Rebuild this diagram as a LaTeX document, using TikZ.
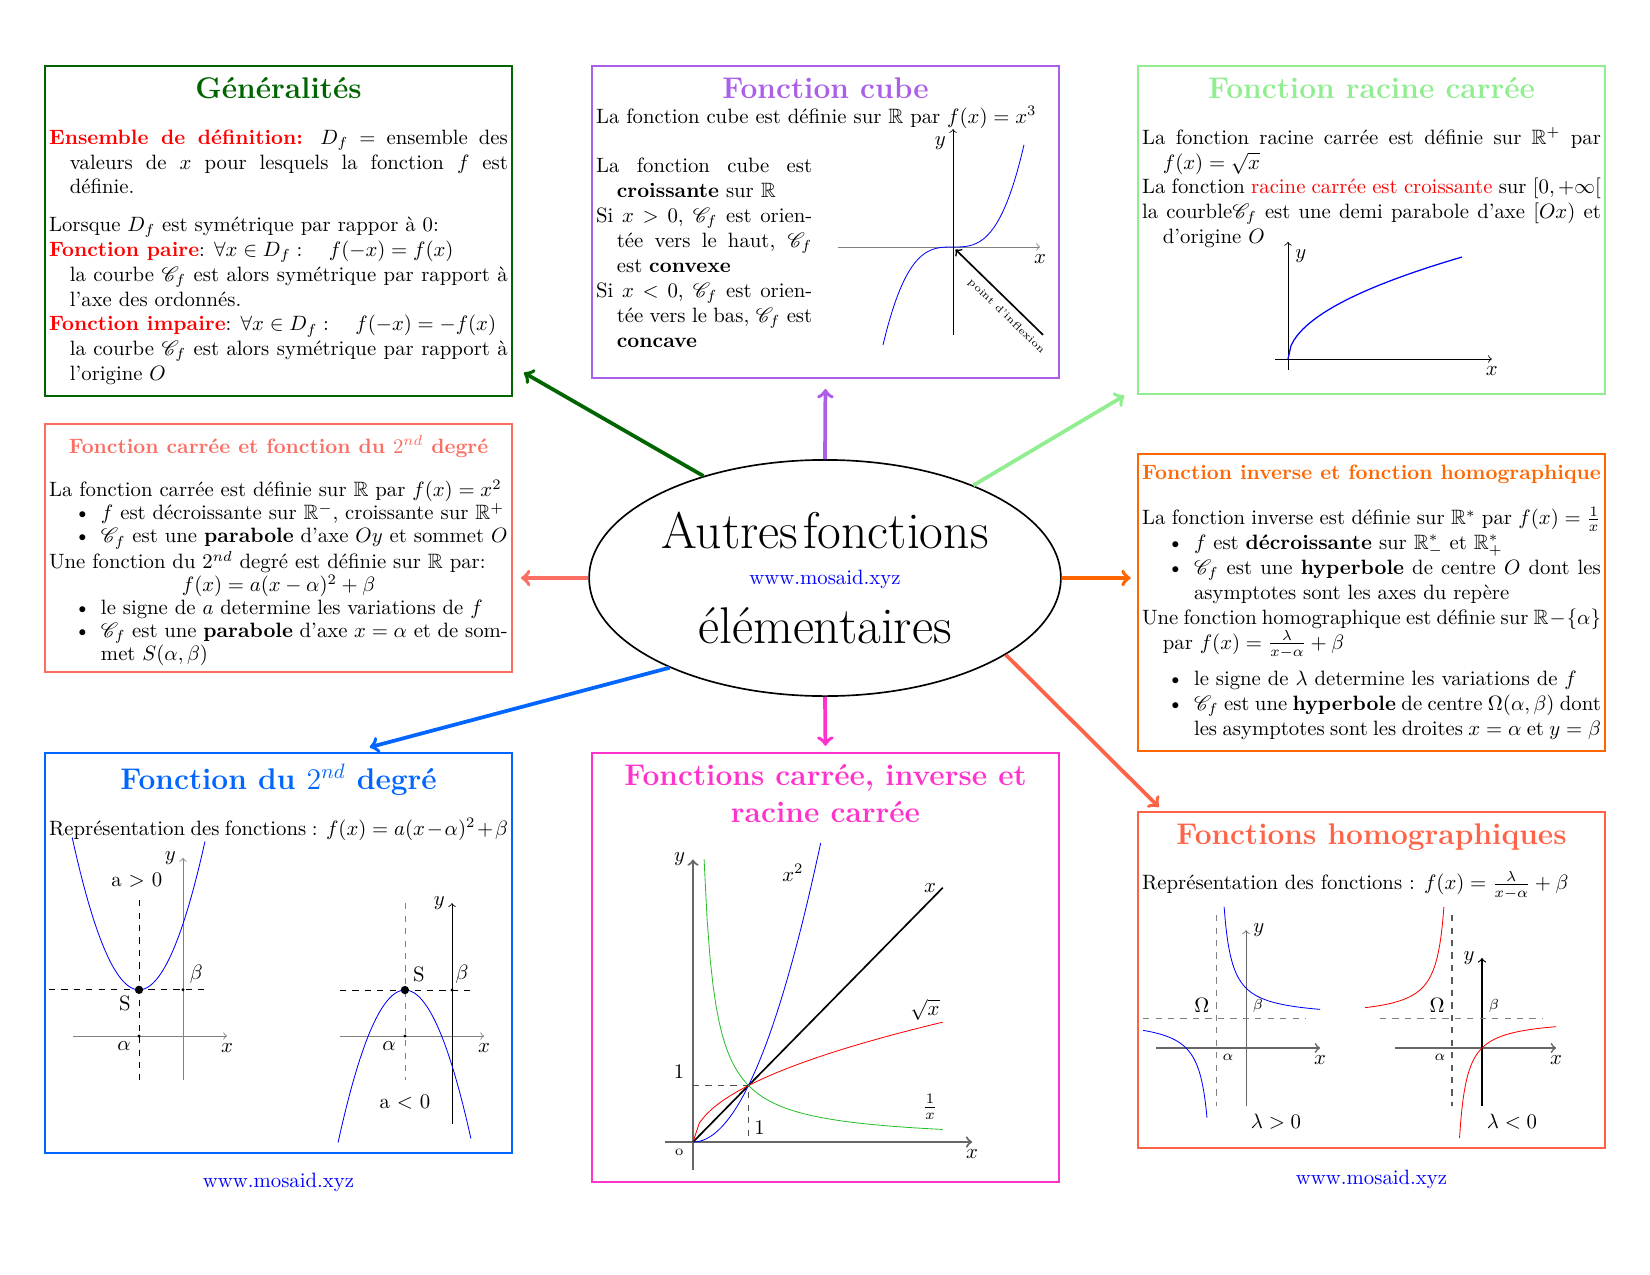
\documentclass[tikz,border=0pt]{standalone}
\usepackage{amsmath,amssymb}
\usepackage{mathrsfs}
\usepackage{enumitem}
\usetikzlibrary{shapes.geometric}
\definecolor{vertfonce}{RGB}{0,100,0}
\definecolor{violetc}{RGB}{170,95,230}
\definecolor{vertclair}{RGB}{144,238,144}
\definecolor{saumon}{RGB}{250,110,100}
\definecolor{orangec}{RGB}{255,102,0}
\definecolor{bleuc}{RGB}{0,102,255}
\definecolor{magentac}{RGB}{255,51,204}
\definecolor{tomate}{RGB}{255,99,71}
\definecolor{vertcourbe}{RGB}{40,190,40}
\newcommand{\ligne}{\par\hangindent=1em\hangafter=1\noindent}
\newcommand{\contenu}[2]{\begin{minipage}[c][#1][t]{7.77cm}\setlength{\parindent}{0pt}\vspace{3.5pt}#2\end{minipage}}
\newcommand{\entete}[2]{{\centering\Large\bfseries\color{#1}#2\par}}
\begin{document}
\begin{tikzpicture}[x=0.016933cm, y=-0.016933cm,
  boite/.style={draw=#1, line width=1pt, inner sep=2pt},
  fleche/.style={->, line width=1.8pt, draw=#1},
  url/.style={text=blue}]
\useasboundingbox (0,0) rectangle (1650,1275);
% centre
\node[draw, ellipse, thick, minimum width=7.99cm, minimum height=4cm, inner sep=0pt] (centre) at (825,578) {};
\node[align=center, font=\Huge] (titre) at (centre.center) {Autres\hspace{2.5pt}fonctions\\[-12.7pt]{\normalsize\color{blue}www.mosaid.xyz}\\[-1.1pt]élémentaires};
% Generalites
\node[boite=vertfonce] (gen) at (278.5,231) {\contenu{5.447cm}{%
\entete{vertfonce}{Généralités}
\vspace{10pt}
\ligne{\color{red}\bfseries Ensemble de définition:} $D_f$ = ensemble des valeurs de $x$ pour lesquels la fonction $f$ est définie.
\par\vspace{6pt}
\ligne Lorsque $D_f$ est symétrique par rappor à 0:
\ligne{\color{red}\bfseries Fonction paire}: $\forall x\in D_f :\quad f(-x)=f(x)$\\
la courbe $\mathscr{C}_f$ est alors symétrique par rapport à l'axe des ordonnés.
\ligne{\color{red}\bfseries Fonction impaire}: $\forall x\in D_f :\quad f(-x)=-f(x)$\\
la courbe $\mathscr{C}_f$ est alors symétrique par rapport à l'origine $O$}};
% cube
\node[boite=violetc] (cube) at (825.5,222) {\contenu{5.143cm}{%
\entete{violetc}{Fonction cube}
\noindent La fonction cube est définie sur $\mathbb{R}$ par $f(x)=x^3$\par
\vspace{12pt}
\begin{minipage}[t]{3.66cm}
\ligne La fonction cube est \textbf{croissante} sur $\mathbb{R}$
\ligne Si $x>0$, $\mathscr{C}_f$ est orien\-tée vers le haut, $\mathscr{C}_f$ est \textbf{convexe}
\ligne Si $x<0$, $\mathscr{C}_f$ est orien\-tée vers le bas, $\mathscr{C}_f$ est \textbf{concave}
\end{minipage}}};
% racine
\node[boite=vertclair] (racine) at (1371.5,230) {\contenu{5.413cm}{%
\entete{vertclair}{Fonction racine carrée}
\vspace{10pt}
\ligne La fonction racine carrée est définie sur $\mathbb{R}^+$ par $f(x)=\sqrt{x}$
\ligne La fonction {\color{red}racine carrée est croissante} sur $[0,+\infty[$
\ligne la courble$\mathscr{C}_f$ est une demi parabole d'axe $[Ox)$ et d'origine $O$}};
% carre
\node[boite=saumon] (carre) at (278.5,548) {\contenu{4.059cm}{%
{\centering\bfseries\color{saumon}Fonction carrée et fonction du $2^{nd}$ degré\par}
\vspace{10pt}
\fontsize{10}{11.1}\selectfont
\ligne La fonction carrée est définie sur $\mathbb{R}$ par $f(x)=x^2$
\begin{itemize}[nosep]
\item $f$ est décroissante sur $\mathbb{R}^-$, croissante sur $\mathbb{R}^+$
\item $\mathscr{C}_f$ est une \textbf{parabole} d'axe $Oy$ et sommet $O$
\end{itemize}
\ligne Une fonction du $2^{nd}$ degré est définie sur $\mathbb{R}$ par:\par
{\centering $f(x)=a(x-\alpha)^2+\beta$\par}
\begin{itemize}[nosep]
\item le signe de $a$ determine les variations de $f$
\item $\mathscr{C}_f$ est une \textbf{parabole} d'axe $x=\alpha$ et de som\-met $S(\alpha,\beta)$
\end{itemize}}};
% inverse
\node[boite=orangec] (inverse) at (1371.5,602.5) {\contenu{4.889cm}{%
{\centering\bfseries\color{orangec}Fonction inverse et fonction homographique\par}
\vspace{9.5pt}
\ligne La fonction inverse est définie sur $\mathbb{R}^*$ par $f(x)=\frac{1}{x}$
\begin{itemize}[nosep]
\item $f$ est \textbf{décroissante} sur $\mathbb{R}^*_-$ et $\mathbb{R}^*_+$
\item $\mathscr{C}_f$ est une \textbf{hyperbole} de centre $O$ dont les asymptotes sont les axes du repère
\end{itemize}
\ligne Une fonction homographique est définie sur $\mathbb{R}-\{\alpha\}$ par $f(x)=\frac{\lambda}{x-\alpha}+\beta$
\begin{itemize}[nosep,topsep=5.5pt]
\item le signe de $\lambda$ determine les variations de $f$
\item $\mathscr{C}_f$ est une \textbf{hyperbole} de centre $\Omega(\alpha,\beta)$ dont les asymptotes sont les droites $x=\alpha$ et $y=\beta$
\end{itemize}}};
% 2nd degre
\node[boite=bleuc] (deg2) at (278.5,953) {\contenu{6.633cm}{%
\entete{bleuc}{Fonction du $2^{nd}$ degré}
\vspace{10pt}
\ligne Représentation des fonctions : $f(x)=a(x-\alpha)^2+\beta$}};
% carree inverse racine
\node[boite=magentac] (trois) at (825.5,967.5) {\contenu{7.124cm}{%
\entete{magentac}{Fonctions carrée, inverse et racine carrée}}};
% homographiques
\node[boite=tomate] (homo) at (1371.5,980) {\contenu{5.549cm}{%
\entete{tomate}{Fonctions homographiques}
\vspace{10pt}
\ligne Représentation des fonctions : $f(x)=\frac{\lambda}{x-\alpha}+\beta$}};
\node[url] (urlg) at (278.5,1182) {www.mosaid.xyz};
\node[url] (urld) at (1371.5,1179) {www.mosaid.xyz};
% fleches
\draw[fleche=vertfonce, shorten >=6pt] (centre.140) -- (gen.-30);
\draw[fleche=violetc, shorten >=4.8pt] (centre.north) -- (cube.south);
\draw[fleche=vertclair, shorten >=7pt] (centre.32) -- (racine.214);
\draw[fleche=saumon, shorten >=3.8pt] (centre.west) -- (centre.west -| carre.east);
\draw[fleche=orangec, shorten >=3pt] (centre.east) -- (centre.east -| inverse.west);
\draw[fleche=bleuc, shorten >=9pt] (centre.210) -- (deg2.70);
\draw[fleche=magentac, shorten >=3pt] (centre.south) -- (trois.north);
\draw[fleche=tomate, shorten >=2.7pt] (centre.-23) -- (homo.141);
% courbe cube
\begin{scope}[shift={(953,247)}, x=0.847cm, y=0.605cm]
\draw[->,gray] (-2.3,0) -- (1.74,0) node[below,text=black] (cx) {$x$};
\draw[->] (0,-2.46) -- (0,3.3) node[below left] (cy) {$y$};
\draw[blue] plot[domain=-1.4:1.42,samples=60,smooth] (\x,{\x*\x*\x});
\draw[<-,thick] (0.05,-0.07) -- (1.8,-2.46) node[pos=0.68,sloped,below,font=\tiny] (infl) {point d'inflexion};
\end{scope}
% courbe racine
\begin{scope}[shift={(1288,359)}, x=0.589cm, y=0.772cm]
\draw[->] (-0.37,0) -- (5.86,0) node[below] (rx) {$x$};
\draw[->] (0,-0.24) -- (0,2.57) node[below right] (ry) {$y$};
\draw[blue,semithick] plot[domain=0:5,samples=60] (\x,{sqrt(\x)});
\end{scope}
% a > 0
\begin{scope}[shift={(183,1036)}, x=0.745cm, y=0.745cm]
\draw[->,gray] (-2.5,0) -- (1,0) node[below,text=black] (px1) {$x$};
\draw[->,gray] (0,-1) -- (0,4.05) node[left,text=black] (py1) {$y$};
\draw[dashed] (-1,3.09) -- (-1,-1);
\draw[dashed] (-3.05,1.05) -- (0.5,1.05);
\draw[blue] plot[domain=-2.52:0.5,samples=50] (\x,{1.05+1.5*(\x+1)*(\x+1)});
\fill (-1,1.05) circle (2pt);
\fill (-1,0) circle (0.8pt);
\fill (0,1.05) circle (0.8pt);
\node (al1) at (-1.34,-0.23) {$\alpha$};
\node (be1) at (0.3,1.41) {$\beta$};
\node (s1) at (-1.32,0.75) {S};
\node (sg1) at (-1.05,3.55) {a $>$ 0};
\end{scope}
% a < 0
\begin{scope}[shift={(452,1036)}, x=0.745cm, y=0.745cm]
\draw[->,gray] (-2.55,0) -- (0.73,0) node[below,text=black] (px2) {$x$};
\draw[->] (0,-2) -- (0,3.02) node[left] (py2) {$y$};
\draw[dashed,gray] (-1.07,3.02) -- (-1.07,-1);
\draw[dashed] (-2.55,1.045) -- (0.41,1.045);
\draw[blue] plot[domain=-2.59:0.43,samples=50] (\x,{1.045-1.5*(\x+1.07)*(\x+1.07)});
\fill (-1.07,1.045) circle (2pt);
\fill (-1.07,0) circle (0.8pt);
\fill (0,1.045) circle (0.8pt);
\node (al2) at (-1.43,-0.23) {$\alpha$};
\node (be2) at (0.23,1.41) {$\beta$};
\node (s2) at (-0.75,1.39) {S};
\node (sg2) at (-1.07,-1.5) {a $<$ 0};
\end{scope}
% trois courbes
\begin{scope}[shift={(693,1142)}, x=0.94cm, y=0.957cm]
\draw[->,gray!80!black,line width=1pt] (-0.5,0) -- (5.03,0) node[below,text=black] (tx) {$x$};
\draw[->,gray!80!black,line width=1pt] (0,-0.5) -- (0,5) node[left,text=black] (ty) {$y$};
\draw[dashed,gray!60!black,thick] (0,1) -- (1,1) -- (1,0.1);
\draw[thick] (0,0) -- (4.5,4.5);
\draw[blue] plot[domain=0:2.3,samples=50] (\x,{\x*\x});
\draw[red] plot[domain=0:4.5,samples=40] (\x,{sqrt(\x)});
\draw[vertcourbe] plot[domain=0.2:4.5,samples=80] (\x,{1/\x});
\node (lx2) at (1.8,4.76) {$x^2$};
\node (lx) at (4.27,4.5) {$x$};
\node (lrac) at (4.18,2.34) {$\sqrt{x}$};
\node (linv) at (4.27,0.62) {$\frac{1}{x}$};
\node (un1) at (-0.25,1.24) {1};
\node (un2) at (1.2,0.25) {1};
\node (orig) at (-0.25,-0.18) {\scriptsize o};
\end{scope}
% lambda > 0
\begin{scope}[shift={(1246,1048)}, x=0.508cm, y=0.508cm]
\draw[->,gray!80!black,thick] (-3,0) -- (2.47,0) node[below,text=black] (hx1) {$x$};
\draw[->,gray!80!black] (0,-1.93) -- (0,3.93) node[right,text=black] (hy1) {$y$};
\draw[dashed,gray] (-1,4.43) -- (-1,-1.93);
\draw[dashed,gray] (-3.43,1) -- (1.97,1);
\draw[blue] plot[domain=-0.73:2.47,samples=80] (\x,{1+1/(\x+1)});
\draw[blue] plot[domain=-3.43:-1.3,samples=60] (\x,{1+1/(\x+1)});
\node (om1) at (-1.47,1.43) {$\Omega$};
\node (hb1) at (0.4,1.4) {$\scriptstyle\beta$};
\node (ha1) at (-0.6,-0.3) {$\scriptstyle\alpha$};
\node (lp) at (1.0,-2.47) {$\lambda>0$};
\end{scope}
% lambda < 0
\begin{scope}[shift={(1482,1048)}, x=0.508cm, y=0.508cm]
\draw[->,gray!80!black,thick] (-2.9,0) -- (2.47,0) node[below,text=black] (hx2) {$x$};
\draw[->,semithick] (0,-1.93) -- (0,3) node[left] (hy2) {$y$};
\draw[dashed,thick,gray!70!black] (-1,4.43) -- (-1,-1.93);
\draw[dashed,gray] (-3.4,1) -- (2,1);
\draw[red] plot[domain=-3.9:-1.27,samples=60] (\x,{1-1/(\x+1)});
\draw[red] plot[domain=-0.75:2.47,samples=80] (\x,{1-1/(\x+1)});
\node (om2) at (-1.5,1.43) {$\Omega$};
\node (hb2) at (0.4,1.4) {$\scriptstyle\beta$};
\node (ha2) at (-1.4,-0.3) {$\scriptstyle\alpha$};
\node (lm) at (1.0,-2.47) {$\lambda<0$};
\end{scope}
\end{tikzpicture}
\end{document}
